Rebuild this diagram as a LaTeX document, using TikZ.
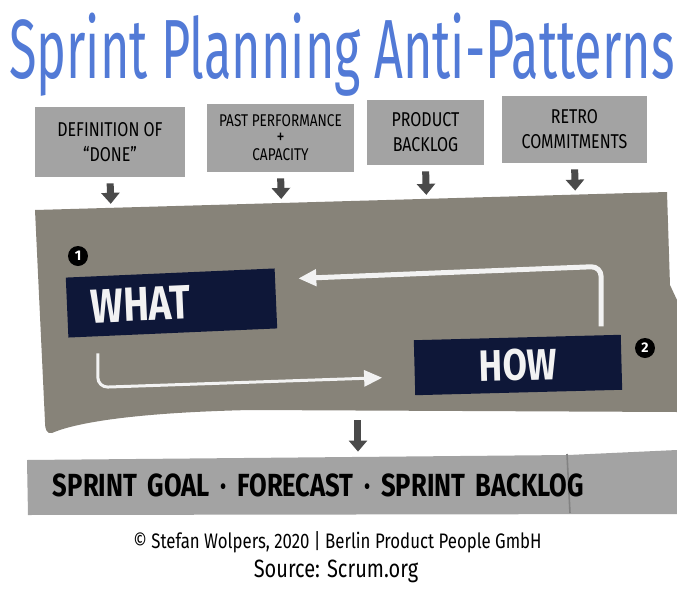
\documentclass[tikz,border=0pt]{standalone}
\usepackage{fontspec}
\setmainfont{Fira Sans}
\newfontfamily\handfont[FakeStretch=0.8]{Fira Sans}
\newfontfamily\titlefont[FakeStretch=0.6]{Fira Sans}
\usetikzlibrary{arrows.meta,calc}
\definecolor{titleblue}{RGB}{82,122,214}
\definecolor{inputgray}{RGB}{163,163,163}
\definecolor{panelgray}{RGB}{135,131,121}
\definecolor{navyblue}{RGB}{14,23,56}
\definecolor{arrowgray}{RGB}{74,74,74}
\definecolor{chalk}{RGB}{242,242,242}
\begin{document}
\begin{tikzpicture}[x=0.5pt,y=-0.5pt,
    inbox/.style={fill=inputgray,align=center,inner sep=0pt,font=\handfont\fontsize{10}{12.5}\selectfont},
    card/.style={fill=navyblue,text=chalk,inner sep=0pt,font=\handfont\bfseries\fontsize{24}{24}\selectfont},
    badge/.style={circle,fill=black,text=white,minimum size=10pt,inner sep=0pt,font=\bfseries\fontsize{7}{7}\selectfont},
    feed/.style={arrowgray,line width=3.5pt,shorten <=3pt,shorten >=2pt,-{Triangle[width=9pt,length=5.5pt]}},
    flow/.style={chalk,line width=2.5pt,rounded corners=5pt,-{Triangle[width=8pt,length=9pt]}}]
\useasboundingbox (0,0) rectangle (677,596);

\node[anchor=base,text=titleblue,font=\titlefont\fontsize{42}{42}\selectfont] (title) at (342,78) {Sprint Planning Anti-Patterns};

% inputs
\node[inbox,minimum width=75pt,minimum height=35pt] (def) at (110,142) {DEFINITION OF\\“DONE”};
\node[inbox,minimum width=73.5pt,minimum height=34pt,font=\handfont\fontsize{8.5}{8.5}\selectfont] (perf) at (280.5,138) {PAST PERFORMANCE\\{\fontsize{10}{8}\selectfont +}\\CAPACITY};
\node[inbox,minimum width=58.5pt,minimum height=32.5pt] (backlog) at (425.5,132.5) {PRODUCT\\BACKLOG};
\node[inbox,minimum width=72.5pt,minimum height=33.5pt] (retro) at (574.5,129.5) {RETRO\\COMMITMENTS};

% planning board
\coordinate (ptl) at (35,210);
\coordinate (ptr) at (667,192);
\coordinate (pbot) at (358,410);
\fill[panelgray] (ptl) -- (ptr) -- (670,285) -- (677,300) -- (677,412) -- (250,410)
    .. controls (120,413) and (70,425) .. (52,433) .. controls (47,434) and (45,430) .. (45,422) -- cycle;

\foreach \n in {def,perf,backlog,retro}
    \draw[feed] (\n.south) -- ($(ptl)!(\n.south)!(ptr)$);

\node[card,minimum width=104.5pt,minimum height=30pt,text width=80.5pt,inner xsep=12pt,align=left,rotate=2.5] (what) at (171.5,303) {WHAT};
\node[card,minimum width=103.5pt,minimum height=27.5pt,font=\handfont\bfseries\fontsize{22}{22}\selectfont,rotate=1.5] (how) at (518,365) {HOW};
\node[badge] (one) at (78,256) {1};
\node[badge] (two) at (645,348) {2};

\draw[flow] ([xshift=-10pt,yshift=4pt]how.north east) -- ++(0,-60) -- ([xshift=11pt,yshift=10pt]what.east);
\draw[flow,line width=1.5pt] ([xshift=-37.5pt,yshift=-10pt]what.south) -- ++(0,34) -- ([xshift=-16pt,yshift=-5pt]how.west);

% output
\fill[inputgray] (27,460) -- (568,455) -- (677,450) -- (677,514) -- (28,515) -- cycle;
\draw[inputgray!80!black,line width=0.8pt] (567,454) -- (570,513);
\node[minimum width=325pt,minimum height=29pt,inner xsep=13pt,text width=299pt,align=left,font=\handfont\bfseries\fontsize{16}{16}\selectfont] (goal) at (352,485) {\mbox{SPRINT GOAL · FORECAST · SPRINT BACKLOG}};
\draw[feed,shorten <=5pt] (pbot) -- (pbot |- goal.north);

\node[anchor=base,font=\handfont\fontsize{10.5}{10.5}\selectfont] (credit) at (337.5,548) {© Stefan Wolpers, 2020 | Berlin Product People GmbH};
\node[anchor=base,font=\handfont\fontsize{12.5}{12.5}\selectfont] (source) at (336,577) {Source: Scrum.org};
\end{tikzpicture}
\end{document}
